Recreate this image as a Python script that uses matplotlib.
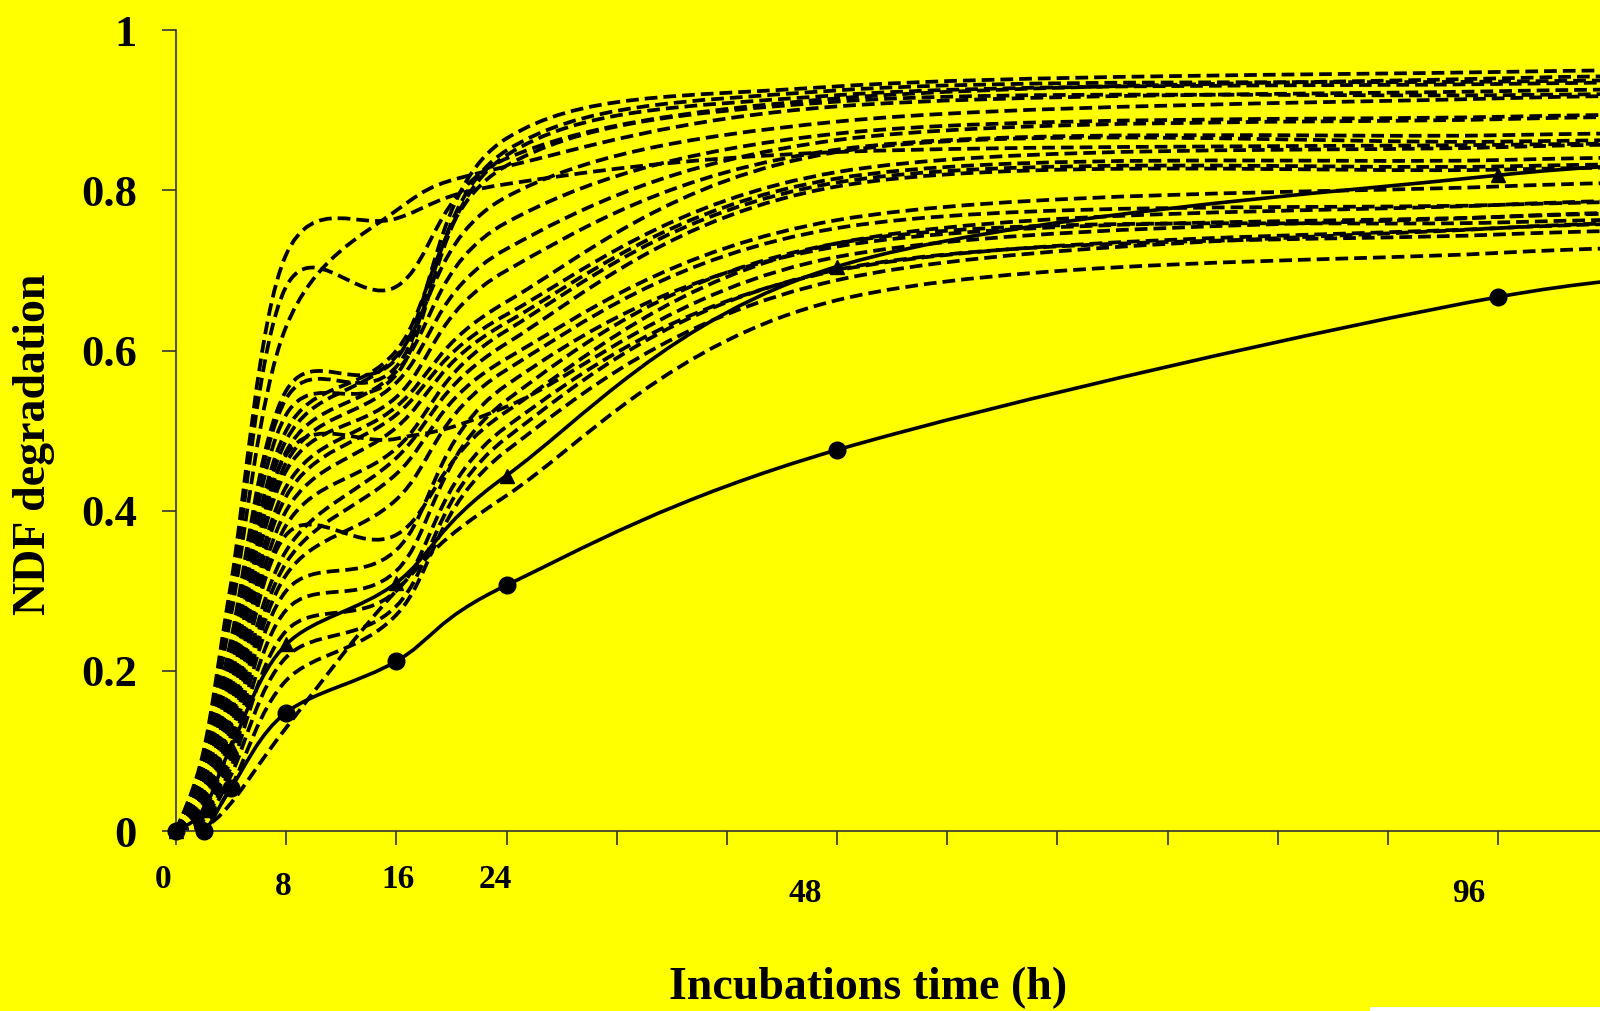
import matplotlib
matplotlib.use('Agg')
import matplotlib.pyplot as plt
import matplotlib.transforms as mtransforms
from matplotlib.path import Path
from matplotlib.patches import PathPatch, Rectangle
import numpy as np

YELLOW = "#FFFF00"
INK = "#000000"
SPINE = "#333333"
SERIF = "Liberation Serif"

# incubation times (h); the last one lies beyond the visible axis
HOURS = [0, 2, 4, 8, 16, 24, 48, 96, 120]

# NDF degradation, measured samples (dashed)
s01 = [0, 0.10, 0.31, 0.72, 0.765, 0.808, 0.848, 0.857, 0.862]
s02 = [0, 0.095, 0.29, 0.68, 0.68, 0.84, 0.915, 0.940, 0.945]
s03 = [0, 0.09, 0.27, 0.63, 0.775, 0.83, 0.905, 0.924, 0.928]
s04 = [0, 0.08, 0.24, 0.55, 0.59, 0.865, 0.930, 0.948, 0.952]
s05 = [0, 0.08, 0.23, 0.54, 0.58, 0.85, 0.925, 0.936, 0.940]
s06 = [0, 0.07, 0.22, 0.52, 0.57, 0.844, 0.919, 0.933, 0.937]
s07 = [0, 0.07, 0.21, 0.50, 0.60, 0.831, 0.911, 0.919, 0.923]
s08 = [0, 0.06, 0.20, 0.488, 0.593, 0.792, 0.886, 0.915, 0.920]
s09 = [0, 0.06, 0.19, 0.474, 0.574, 0.76, 0.871, 0.892, 0.897]
s10 = [0, 0.05, 0.18, 0.46, 0.56, 0.727, 0.863, 0.889, 0.894]
s11 = [0, 0.05, 0.175, 0.45, 0.542, 0.70, 0.851, 0.869, 0.874]
s12 = [0, 0.045, 0.165, 0.43, 0.53, 0.661, 0.848, 0.861, 0.866]
s13 = [0, 0.04, 0.155, 0.418, 0.52, 0.645, 0.823, 0.854, 0.860]
s14 = [0, 0.04, 0.145, 0.40, 0.504, 0.635, 0.815, 0.838, 0.845]
s15 = [0, 0.05, 0.18, 0.47, 0.49, 0.53, 0.717, 0.767, 0.775]
s16 = [0, 0.035, 0.14, 0.382, 0.478, 0.625, 0.810, 0.830, 0.836]
s17 = [0, 0.035, 0.135, 0.37, 0.37, 0.524, 0.734, 0.782, 0.790]
s18 = [0, 0.03, 0.13, 0.35, 0.466, 0.609, 0.805, 0.826, 0.832]
s19 = [0, 0.025, 0.12, 0.335, 0.446, 0.59, 0.763, 0.805, 0.812]
s20 = [0, 0.025, 0.11, 0.32, 0.414, 0.576, 0.753, 0.782, 0.790]
s21 = [0, 0.02, 0.10, 0.30, 0.351, 0.557, 0.730, 0.767, 0.775]
s22 = [0, 0.018, 0.09, 0.276, 0.325, 0.538, 0.734, 0.760, 0.768]
s23 = [0, 0.014, 0.08, 0.25, 0.30, 0.505, 0.70, 0.753, 0.760]
s24 = [0, 0.01, 0.07, 0.217, 0.281, 0.491, 0.701, 0.745, 0.752]
s25 = [0, 0.008, 0.055, 0.188, 0.27, 0.475, 0.688, 0.753, 0.760]
s26 = [0, 0.005, 0.035, 0.129, 0.30, 0.419, 0.663, 0.722, 0.730]
DASHED = [s01, s02, s03, s04, s05, s06, s07, s08, s09, s10, s11, s12, s13,
          s14, s15, s16, s17, s18, s19, s20, s21, s22, s23, s24, s25, s26]

# solid reference curves
ref_circle = [0, 0, 0.054, 0.148, 0.212, 0.307, 0.476, 0.667, 0.700]
ref_triangle = [0, 0.026, 0.105, 0.233, 0.31, 0.444, 0.705, 0.819, 0.835]

YTICKS = [0, 0.2, 0.4, 0.6, 0.8, 1.0]
YTICKLABELS = ["0", "0.2", "0.4", "0.6", "0.8", "1"]
XTICKS = list(range(0, 104, 8))
XLABELS = ["0", "8", "16", "24", "48", "96"]


def smooth_path(x, y):
    # Excel-like smoothed line: cubic Bezier through every point
    p = np.column_stack([x, y]).astype(float)
    n = len(p)
    verts, codes = [p[0]], [Path.MOVETO]
    for i in range(n - 1):
        a = p[i - 1] if i > 0 else p[i]
        d = p[i + 2] if i + 2 < n else p[i + 1]
        verts += [p[i] + (p[i + 1] - a) / 6, p[i + 1] - (d - p[i]) / 6, p[i + 1]]
        codes += [Path.CURVE4] * 3
    return Path(verts, codes)


fig = plt.figure(figsize=(16, 10.11), dpi=100)
fig.patch.set_facecolor(YELLOW)
ax = fig.add_axes([0.11, 0.178, 0.89, 0.792])
ax.set_facecolor(YELLOW)

for s in DASHED:
    ax.add_patch(PathPatch(smooth_path(HOURS, s), fill=False, edgecolor=INK,
                           linewidth=2.7, linestyle=(0, (3.4, 1.6)), capstyle="butt"))

for s, mk, ms in [(ref_triangle, "^", 10), (ref_circle, "o", 12)]:
    ax.add_patch(PathPatch(smooth_path(HOURS, s), fill=False, edgecolor=INK, linewidth=2.6))
    ax.plot(HOURS, s, linestyle="none", marker=mk, markersize=ms, color=INK,
            clip_on=False, zorder=5)

ax.set_xlim(0, 103.4)
ax.set_ylim(0, 1)
for sp in ["top", "right"]:
    ax.spines[sp].set_visible(False)
for sp in ["bottom", "left"]:
    ax.spines[sp].set_color(SPINE)
    ax.spines[sp].set_linewidth(1.2)

ax.set_yticks(YTICKS)
ax.set_yticklabels(YTICKLABELS, fontsize=32, fontweight="bold", family=SERIF)
ax.set_xticks(XTICKS)
ax.set_xticklabels([])
ax.tick_params(axis="both", direction="out", length=10, width=1.2, color=SPINE)
ax.tick_params(axis="y", pad=18)

# hour labels sit a little off their ticks in the original
xlab_pos = [(-0.94, 0.1296), (7.77, 0.1236), (16.1, 0.1296), (23.15, 0.1296),
            (45.7, 0.1167), (93.9, 0.1167)]
xfig = mtransforms.blended_transform_factory(ax.transData, fig.transFigure)
for lab, (xd, yf) in zip(XLABELS, xlab_pos):
    ax.text(xd, yf, lab, transform=xfig, ha="center", va="center",
            fontsize=24, fontweight="bold", family=SERIF)

fig.text(0.0213, 0.561, "NDF degradation", rotation=90, ha="center", va="center",
         fontsize=33, fontweight="bold", family=SERIF)
fig.text(0.5425, 0.0227, "Incubations time (h)", ha="center", va="center",
         fontsize=33, fontweight="bold", family=SERIF)

fig.patches.append(Rectangle((0.856, 0), 0.144, 0.004, transform=fig.transFigure,
                             facecolor="white", edgecolor="none"))

fig.savefig("out.png", dpi=100, facecolor=YELLOW)
